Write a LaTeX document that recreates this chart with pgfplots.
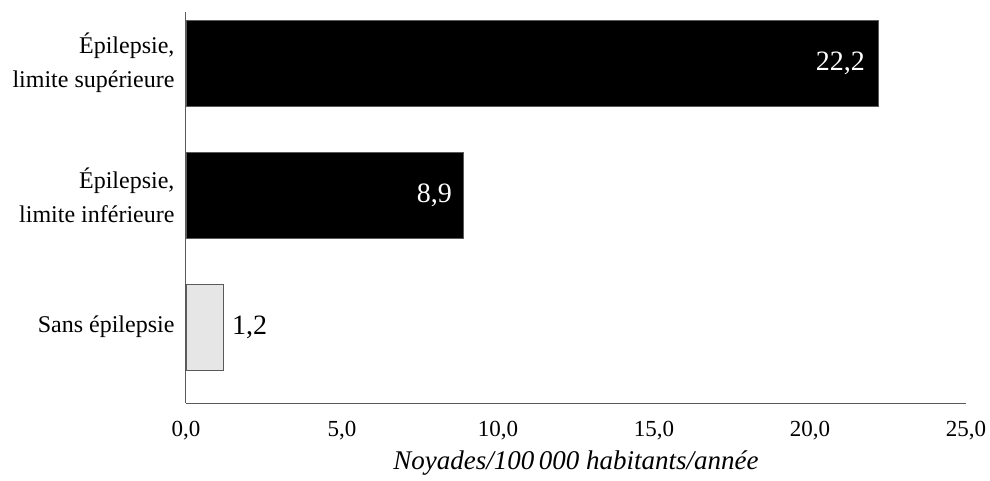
\documentclass[border=0pt]{standalone}
\usepackage{fontspec}
\setmainfont{Liberation Serif}
\usepackage{pgfplots}
\pgfplotsset{compat=1.18}
\definecolor{axgray}{HTML}{5A5A5A}
\definecolor{lightbar}{HTML}{E6E6E6}
\begin{document}
\begin{tikzpicture}
\begin{axis}[
  at={(0pt,0pt)}, anchor=south west,
  scale only axis, width=780pt, height=391pt,
  xbar, bar shift=0pt, bar width=0.652,
  xmin=0, xmax=25, ymin=-0.576, ymax=2.386,
  axis x line*=bottom, axis y line*=left,
  axis line style={axgray, line width=1pt},
  x axis line style={-}, y axis line style={-},
  xtick={0,5,10,15,20,25},
  ytick={0,1,2},
  yticklabels={Sans épilepsie, {Épilepsie,\\limite inférieure}, {Épilepsie,\\limite supérieure}},
  yticklabel style={align=right, font=\fontsize{24}{34}\selectfont, xshift=-8pt},
  xticklabel style={font=\fontsize{23}{25}\selectfont, yshift=-15pt},
  major tick length=0pt,
  /pgf/number format/assume math mode=true,
  /pgf/number format/fixed, /pgf/number format/fixed zerofill,
  /pgf/number format/precision=1, /pgf/number format/use comma,
  xlabel={\itshape Noyades/100\,000 habitants/année},
  xlabel style={font=\fontsize{27}{29}\selectfont, yshift=-4pt},
  nodes near coords,
  every node near coord/.append style={font=\fontsize{28}{30}\selectfont},
]
\addplot[fill=lightbar, draw=axgray, line width=0.8pt,
  every node near coord/.append style={anchor=west, black, xshift=5pt}]
  coordinates {(1.2,0)};
\addplot[fill=black, draw=axgray, line width=0.8pt,
  every node near coord/.append style={anchor=east, white, xshift=-8pt}]
  coordinates {(8.9,1)};
\addplot[fill=black, draw=axgray, line width=0.8pt,
  every node near coord/.append style={anchor=east, white, xshift=-10pt}]
  coordinates {(22.2,2)};
\end{axis}
\pgfresetboundingbox
\path (-186pt,-77pt) rectangle (804pt,403pt);
\end{tikzpicture}
\end{document}
